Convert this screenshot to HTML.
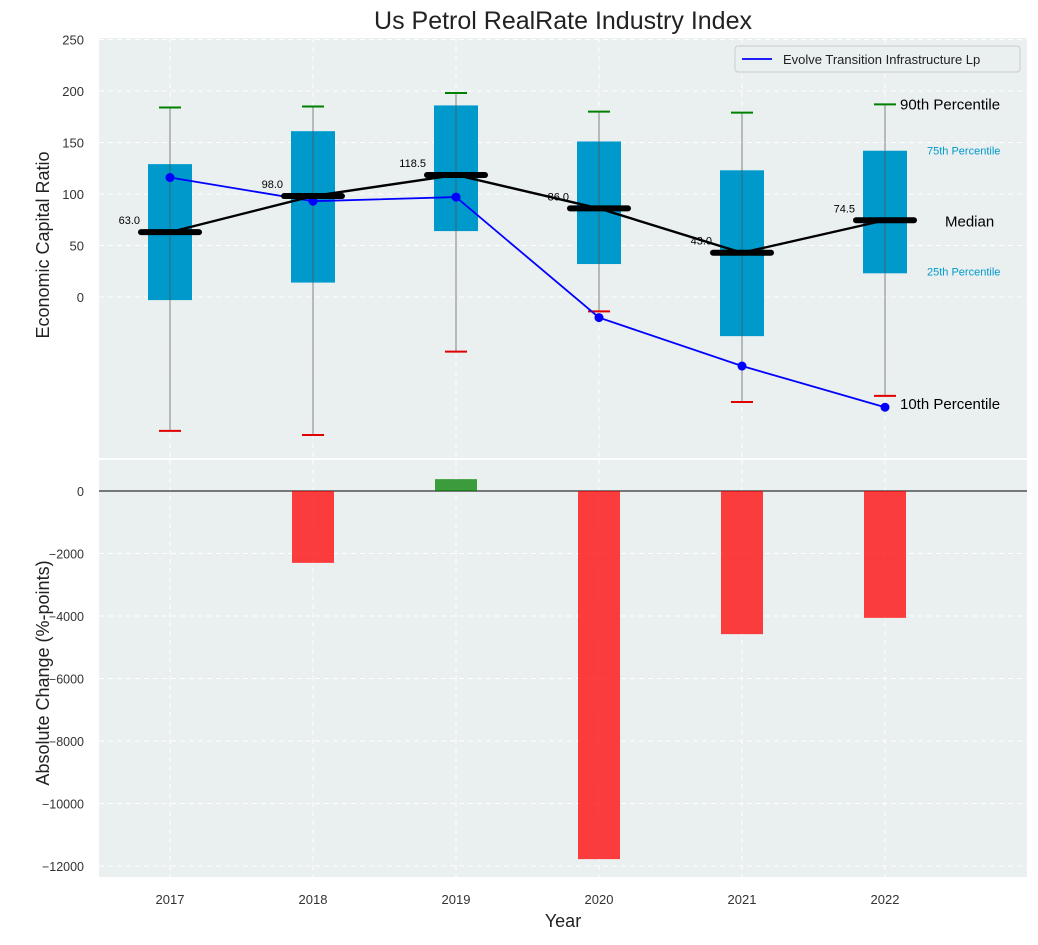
<!DOCTYPE html>
<html><head><meta charset="utf-8"><style>
body{margin:0;background:#fff;font-family:"Liberation Sans","DejaVu Sans",sans-serif}
svg text{font-family:"Liberation Sans","DejaVu Sans",sans-serif}
</style></head><body>
<svg id="c" width="1038" height="940"></svg>
<script>
const years=[2017,2018,2019,2020,2021,2022];
const p90=[184,185,198,180,179,187];
const p75=[129,161,186,151,123,142];
const med=[63,98,118.5,86,43,74.5];
const p25=[-3,14,64,32,-38,23];
const p10=[-130,-134,-53,-14,-102,-96];
const company=[116,93,97,-20,-67,-107];
const changes=[0,-2300,380,-11780,-4580,-4060];
const topTicks=[0,50,100,150,200,250];
const botTicks=[0,-2000,-4000,-6000,-8000,-10000,-12000];

const NS="http://www.w3.org/2000/svg";
const svg=document.getElementById('c');
function el(t,a,p){const e=document.createElementNS(NS,t);for(const k in a)e.setAttribute(k,a[k]);(p||svg).appendChild(e);return e;}
const L=99,R=1027;
const x=v=>170+(v-2017)*143;
const y1=v=>297-v*1.03;
const y2=v=>491-v*0.03125;
let t=el('text',{x:563,y:29,'font-size':25,'text-anchor':'middle',fill:'#222'});t.textContent='Us Petrol RealRate Industry Index';

let bg1=el('rect',{x:L,y:38,width:R-L,height:420,fill:'#eaeff0'});

let bg2=el('rect',{x:L,y:460,width:R-L,height:417,fill:'#eaeff0'});

const fmt=v=>v<0?'\u2212'+Math.abs(v):String(v);
years.forEach(v=>{
 el('line',{x1:x(v),x2:x(v),y1:38,y2:458,stroke:'#fff','stroke-dasharray':'5,4','stroke-width':1});
 el('line',{x1:x(v),x2:x(v),y1:460,y2:877,stroke:'#fff','stroke-dasharray':'5,4','stroke-width':1});
 let tt=el('text',{x:x(v),y:904,'font-size':13,'text-anchor':'middle',fill:'#333'});tt.textContent=v;
 
});
topTicks.forEach(v=>{
 el('line',{x1:L,x2:R,y1:y1(v),y2:y1(v),stroke:'#fff','stroke-dasharray':'5,4'});
 let tt=el('text',{x:84,y:y1(v)+5,'font-size':13,'text-anchor':'end',fill:'#333'});tt.textContent=v;
 
});
botTicks.forEach(v=>{
 el('line',{x1:L,x2:R,y1:y2(v),y2:y2(v),stroke:'#fff','stroke-dasharray':'5,4'});
 let tt=el('text',{x:84,y:y2(v)+5,'font-size':12.5,'text-anchor':'end',fill:'#333'});tt.textContent=fmt(v);
 
});
years.forEach((v,i)=>{
 const cx=x(v);
 let b=el('rect',{x:cx-22,y:y1(p75[i]),width:44,height:y1(p25[i])-y1(p75[i]),fill:'#0099cc'});
 
 let w=el('line',{x1:cx,x2:cx,y1:y1(p90[i]),y2:y1(p10[i]),stroke:'#555','stroke-opacity':0.6,'stroke-width':1.2});
 
 let c1=el('line',{x1:cx-11,x2:cx+11,y1:y1(p90[i]),y2:y1(p90[i]),stroke:'#008000','stroke-width':2});
 
 let c2=el('line',{x1:cx-11,x2:cx+11,y1:y1(p10[i]),y2:y1(p10[i]),stroke:'#e00000','stroke-width':2});
 
});
let cp=el('polyline',{points:years.map((v,i)=>x(v)+','+y1(company[i])).join(' '),fill:'none',stroke:'#0000ff','stroke-width':1.8});

years.forEach((v,i)=>{let d=el('circle',{cx:x(v),cy:y1(company[i]),r:4.5,fill:'#0000ff'});
 });
let ml=el('polyline',{points:years.map((v,i)=>x(v)+','+y1(med[i])).join(' '),fill:'none',stroke:'#000','stroke-width':2.4});

years.forEach((v,i)=>{
 let m=el('line',{x1:x(v)-29,x2:x(v)+29,y1:y1(med[i]),y2:y1(med[i]),stroke:'#000','stroke-width':6,'stroke-linecap':'round'});
 
 let tt=el('text',{x:x(v)-30,y:y1(med[i])-8,'font-size':11,'text-anchor':'end',fill:'#000'});tt.textContent=med[i].toFixed(1);
 
});
const lx=x(2022);
[['90th Percentile',lx+15,y1(p90[5])+5,15,'#000'],['75th Percentile',lx+42,y1(p75[5])+4,11,'#0099cc'],['Median',lx+60,y1(med[5])+6,15,'#000'],['25th Percentile',lx+42,y1(p25[5])+2,11,'#0099cc'],['10th Percentile',lx+15,y1(company[5])+2,15,'#000']].forEach(a=>{
 let tt=el('text',{x:a[1],y:a[2],'font-size':a[3],fill:a[4]});tt.textContent=a[0];
 
});
let lg=el('g',{});
el('rect',{x:735,y:46,width:285,height:26,fill:'#eaeff0',stroke:'#ccc',rx:3},lg);
el('line',{x1:742,x2:772,y1:59,y2:59,stroke:'#0000ff','stroke-width':1.8},lg);
let lt=el('text',{x:783,y:64,'font-size':13,fill:'#222'},lg);lt.textContent='Evolve Transition Infrastructure Lp';
el('line',{x1:L,x2:R,y1:y2(0),y2:y2(0),stroke:'#000','stroke-width':1});
years.forEach((v,i)=>{
 const val=changes[i];if(val===0)return;
 const y0=Math.min(y2(0),y2(val)),h=Math.abs(y2(val)-y2(0));
 let b=el('rect',{x:x(v)-21,y:y0,width:42,height:h,fill:val<0?'#ff0000':'#008000','fill-opacity':0.75});
 
});
let a1=el('text',{x:0,y:0,'font-size':18,'text-anchor':'middle',fill:'#222',transform:'translate(49,245) rotate(-90)'});a1.textContent='Economic Capital Ratio';

let a2=el('text',{x:0,y:0,'font-size':18,'text-anchor':'middle',fill:'#222',transform:'translate(49,673) rotate(-90)'});a2.textContent='Absolute Change (%-points)';

let a3=el('text',{x:563,y:927,'font-size':18,'text-anchor':'middle',fill:'#222'});a3.textContent='Year';

</script>
</body></html>
